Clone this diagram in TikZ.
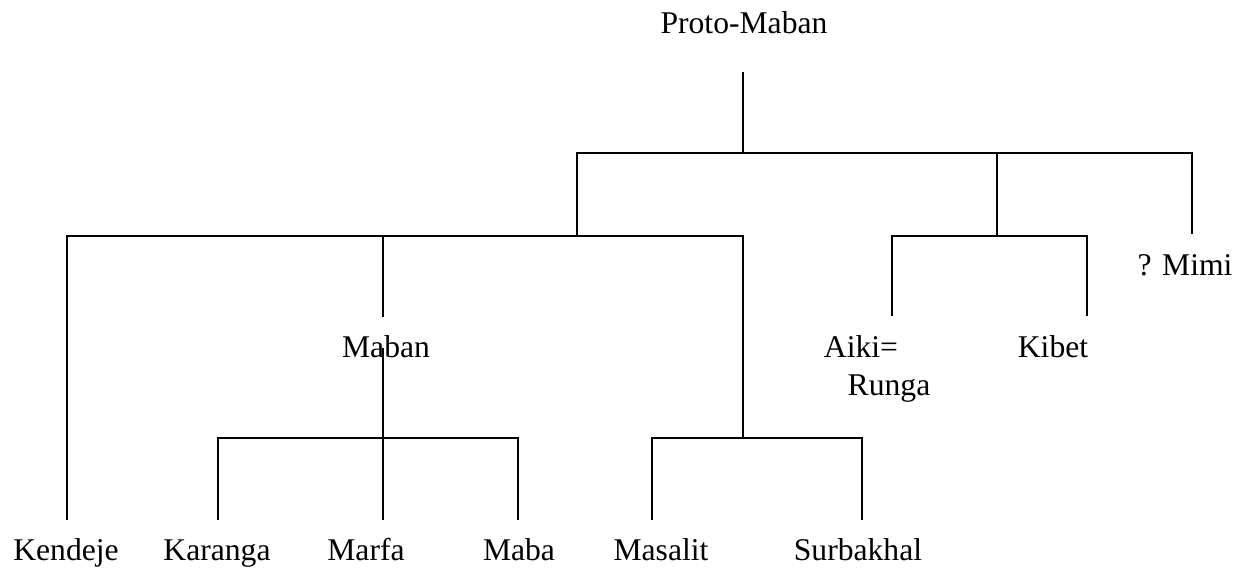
\documentclass[tikz,border=0pt]{standalone}
\usepackage{fontspec}
\setmainfont{Liberation Serif}
\usepackage{tikz}
\tikzset{
  lang/.style={font=\fontsize{18}{21}\selectfont, inner sep=0pt, anchor=base},
  branch/.style={line width=1.1pt, draw=black},
}

\begin{document}
\begin{tikzpicture}[x=0.02cm, y=-0.02cm]
  \useasboundingbox (0,0) rectangle (1241,568);

  % language labels
  \node[lang] (proto) at (744,33) {Proto-Maban};
  \node[lang] (maban) at (386,357) {Maban};
  \node[lang] (aiki) at (861,357) {Aiki=};
  \node[lang] (runga) at (889,395) {Runga};
  \node[lang] (kibet) at (1053,357) {Kibet};
  \node[lang] (mimi) at (1185,275) {? Mimi};
  \node[lang] (kendeje) at (66,560) {Kendeje};
  \node[lang] (karanga) at (217,560) {Karanga};
  \node[lang] (marfa) at (366,560) {Marfa};
  \node[lang] (maba) at (519,560) {Maba};
  \node[lang] (masalit) at (661,560) {Masalit};
  \node[lang] (surbakhal) at (858,560) {Surbakhal};

  % joints of the tree
  \coordinate (roottop) at (743,72);
  \coordinate (split) at (743,153);
  \coordinate (left) at (577,236);
  \coordinate (right) at (997,236);
  \coordinate (mimiend) at (1192,234);
  \coordinate (mabantop) at (383,317);
  \coordinate (mabanlow) at (383,348);
  \coordinate (mabanjoin) at (383,438);
  \coordinate (masalitjoin) at (743,438);
  \coordinate (aikiend) at (892,316);
  \coordinate (kibetend) at (1087,316);
  \coordinate (kendejeend) at (67,520);
  \coordinate (karangaend) at (218,520);
  \coordinate (marfaend) at (383,520);
  \coordinate (mabaend) at (518,520);
  \coordinate (masalitend) at (652,520);
  \coordinate (surbakhalend) at (862,520);

  % branches
  \draw[branch] (roottop) -- (split);
  \draw[branch] (left) |- (split) -| (mimiend);
  \draw[branch] (split -| right) -- (right);
  \draw[branch] (kendejeend) |- (left) -| (masalitjoin);
  \draw[branch] (left -| mabantop) -- (mabantop);
  \draw[branch] (mabanlow) -- (mabanjoin);
  \draw[branch] (karangaend) |- (mabanjoin) -| (mabaend);
  \draw[branch] (mabanjoin) -- (marfaend);
  \draw[branch] (masalitend) |- (masalitjoin) -| (surbakhalend);
  \draw[branch] (aikiend) |- (right) -| (kibetend);
\end{tikzpicture}
\end{document}
